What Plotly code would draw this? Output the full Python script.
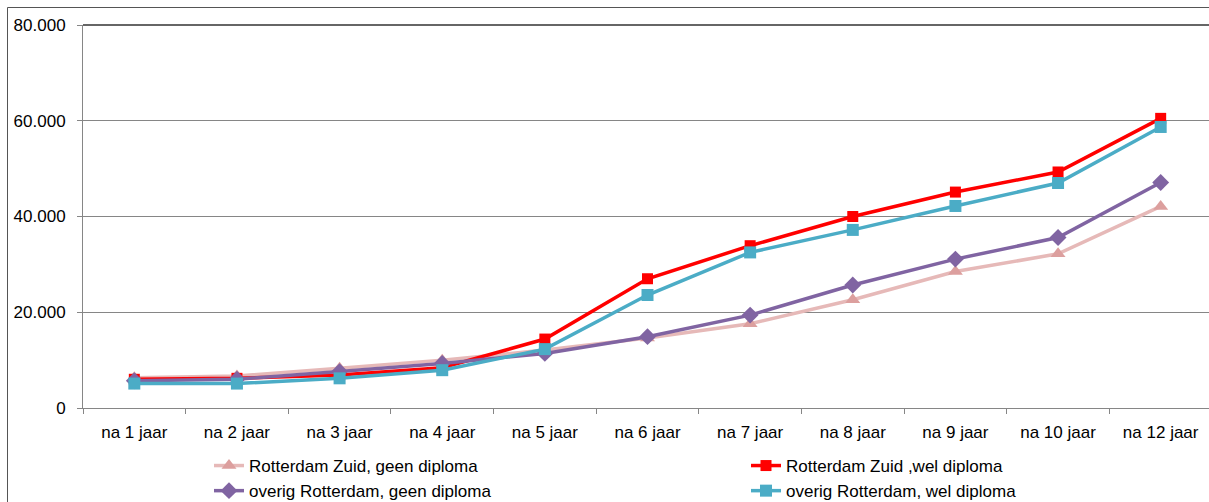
import plotly.graph_objects as go

categories = ["na 1 jaar", "na 2 jaar", "na 3 jaar", "na 4 jaar", "na 5 jaar", "na 6 jaar",
              "na 7 jaar", "na 8 jaar", "na 9 jaar", "na 10 jaar", "na 12 jaar"]

zuid_geen = [6300, 6700, 8300, 10000, 12100, 14600, 17600, 22600, 28500, 32200, 42100]
zuid_wel = [6000, 6200, 6900, 8400, 14400, 27000, 33900, 40000, 45100, 49300, 60500]
overig_geen = [5700, 6000, 7600, 9300, 11400, 14900, 19400, 25700, 31100, 35600, 47100]
overig_wel = [5100, 5100, 6200, 7900, 12300, 23600, 32500, 37200, 42200, 47000, 58700]

series_names = ["Rotterdam Zuid, geen diploma", "Rotterdam Zuid ,wel diploma",
                "overig Rotterdam, geen diploma", "overig Rotterdam, wel diploma"]
y_ticks = [0, 20000, 40000, 60000, 80000]

FONT = "Liberation Sans, Arial, sans-serif"

styles = [
    dict(line=dict(color="#e6b9b8", width=3.5), marker=dict(symbol="triangle-up", size=13, color="#dc9f9e")),
    dict(line=dict(color="#ff0000", width=3.5), marker=dict(symbol="square", size=11, color="#ff0000")),
    dict(line=dict(color="#8064a2", width=3.5), marker=dict(symbol="diamond", size=13, color="#8064a2")),
    dict(line=dict(color="#4bacc6", width=3.5), marker=dict(symbol="square", size=12, color="#4bacc6")),
]

fig = go.Figure()
for name, vals, st in zip(series_names, [zuid_geen, zuid_wel, overig_geen, overig_wel], styles):
    fig.add_trace(go.Scatter(x=categories, y=vals, name=name, mode="lines+markers",
                             line=st["line"], marker=st["marker"]))

# body margin is removed by the post script, so figure pixel = screen pixel
W, H = 1212, 502
L, R, T = 83, 0, 25
B = H - 408
pw = W - L - R
ph = H - T - B

def px_x(p):
    return (p - L) / pw

def px_y(p):
    return (H - B - p) / ph

fig.update_layout(
    width=W, height=H,
    margin=dict(l=L, r=R, t=T, b=B, pad=0, autoexpand=False),
    paper_bgcolor="white", plot_bgcolor="white",
    separators=",.",
    font=dict(family=FONT, size=17, color="#000000"),
    showlegend=True,
    legend=dict(orientation="h", x=px_x(209), y=px_y(448), xanchor="left", yanchor="top",
                entrywidth=492, entrywidthmode="pixels", font=dict(size=17, family=FONT),
                bgcolor="rgba(0,0,0,0)", itemwidth=30, tracegroupgap=0),
    xaxis=dict(type="category", showgrid=False, showline=True, linecolor="#868686", linewidth=1,
               ticks="outside", tickson="boundaries", ticklen=5, tickcolor="#868686",
               tickfont=dict(size=17, family=FONT), ticklabelstandoff=9, fixedrange=True,
               range=[-0.5, len(categories) - 0.5]),
    yaxis=dict(range=[0, 80000], tickvals=y_ticks, tickformat=",d", showgrid=True,
               gridcolor="#868686", gridwidth=1, showline=True, linecolor="#868686", linewidth=1,
               ticks="outside", ticklen=5, tickcolor="#868686", zeroline=False,
               tickfont=dict(size=17, family=FONT), ticklabelstandoff=8, fixedrange=True),
    shapes=[
        dict(type="rect", xref="paper", yref="paper", x0=px_x(7.5), x1=px_x(1240), y0=px_y(530), y1=px_y(7.5),
             line=dict(color="#555555", width=1), fillcolor="rgba(0,0,0,0)", layer="below"),
        dict(type="line", xref="paper", yref="paper", x0=0, x1=1, y0=1, y1=1,
             line=dict(color="#333333", width=1.5)),
    ],
)

post = ("document.documentElement.style.margin='0';document.documentElement.style.overflow='hidden';"
        "document.body.style.margin='0';document.body.style.overflow='hidden';")
fig.write_html("out.html", include_plotlyjs=True, post_script=post,
               config={"displayModeBar": False, "staticPlot": True})
